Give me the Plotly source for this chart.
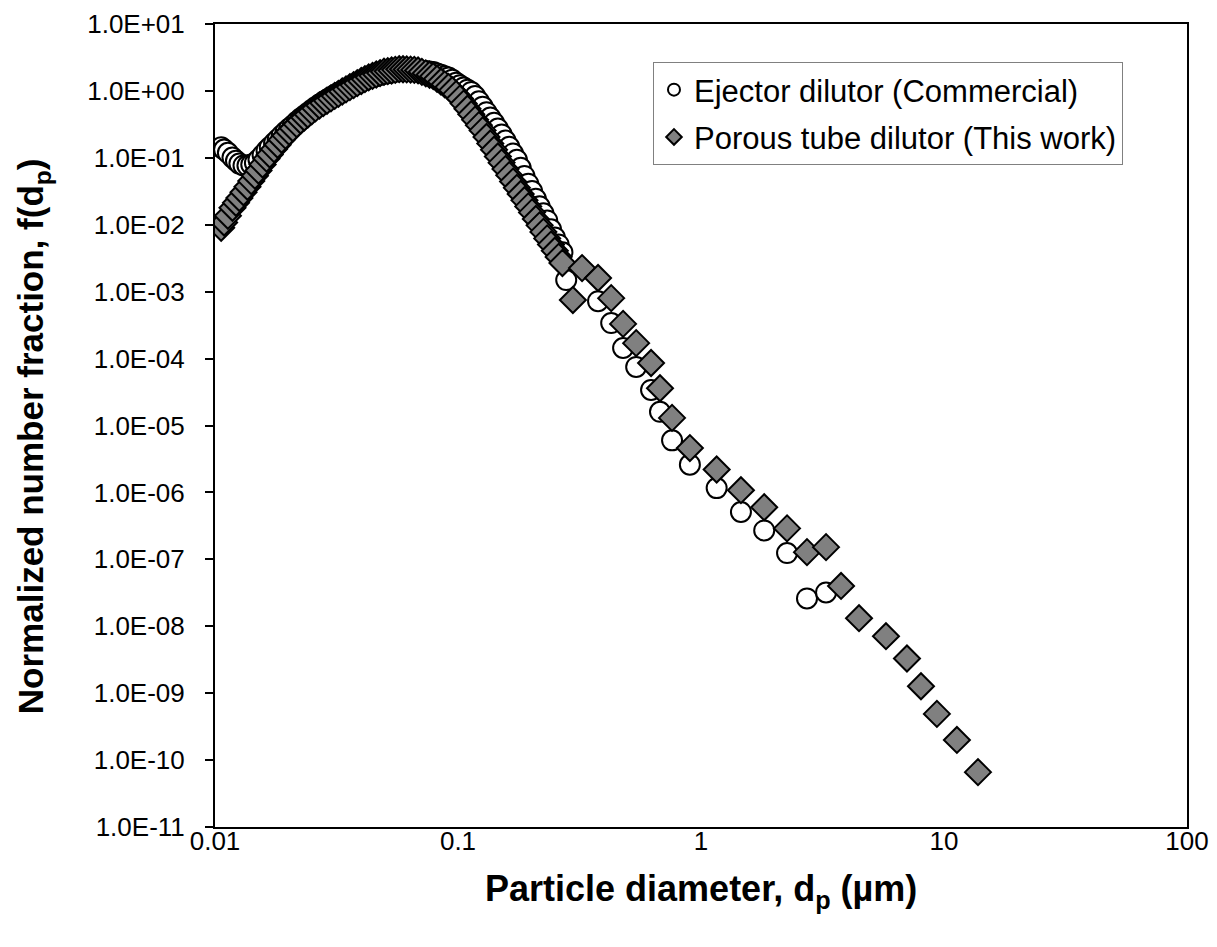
import plotly.graph_objects as go

# SMPS channel midpoints (nm)
smps_d_nm = [10.6, 10.9, 11.3, 11.8, 12.2, 12.6, 13.1, 13.6, 14.1, 14.6, 15.1, 15.7, 16.3, 16.8,
             17.5, 18.1, 18.8, 19.5, 20.2, 20.9, 21.7, 22.5, 23.3, 24.1, 25.0, 25.9, 26.9, 27.9,
             28.9, 30.0, 31.1, 32.2, 33.4, 34.6, 35.9, 37.2, 38.5, 40.0, 41.4, 42.9, 44.5, 46.1,
             47.8, 49.6, 51.4, 53.3, 55.2, 57.3, 59.4, 61.5, 63.8, 66.1, 68.5, 71.0, 73.7, 76.4,
             79.1, 82.0, 85.1, 88.2, 91.4, 94.7, 98.2, 101.8, 105.5, 109.4, 113.4, 117.6, 121.9,
             126.3, 131.0, 135.8, 140.7, 145.9, 151.2, 156.8, 162.5, 168.5, 174.7, 181.1, 187.7,
             194.6, 201.7, 209.1, 216.7, 224.7, 232.9, 241.4, 250.3, 259.5, 269.0, 278.8]

ejector_smps = [0.144, 0.133, 0.119, 0.101, 0.0902, 0.0820, 0.0769, 0.0766, 0.0794, 0.0836,
                0.0944, 0.110, 0.129, 0.144, 0.167, 0.188, 0.216, 0.245, 0.274, 0.305,
                0.345, 0.386, 0.426, 0.467, 0.518, 0.570, 0.627, 0.681, 0.738, 0.802,
                0.867, 0.927, 0.993, 1.062, 1.140, 1.211, 1.285, 1.374, 1.455, 1.535,
                1.600, 1.667, 1.734, 1.803, 1.841, 1.884, 1.928, 1.972, 1.995, 2.009,
                2.023, 2.037, 2.042, 2.009, 1.977, 1.945, 1.910, 1.824, 1.738, 1.660,
                1.589, 1.472, 1.330, 1.219, 1.127, 1.042, 0.964, 0.839, 0.698, 0.582,
                0.481, 0.400, 0.333, 0.274, 0.224, 0.181, 0.146, 0.116, 0.0933, 0.0708,
                0.0536, 0.0411, 0.0319, 0.0244, 0.0189, 0.0148, 0.0116, 0.00853, 0.00647, 0.00508,
                0.00388, 0.00149]

porous_smps = [0.0090, 0.0108, 0.0136, 0.0179, 0.0213, 0.0251, 0.0306, 0.0370, 0.0449, 0.0541,
               0.0646, 0.0794, 0.0973, 0.112, 0.135, 0.157, 0.186, 0.215, 0.245, 0.277,
               0.318, 0.361, 0.401, 0.443, 0.494, 0.548, 0.605, 0.658, 0.713, 0.774,
               0.841, 0.904, 0.980, 1.054, 1.140, 1.222, 1.306, 1.406, 1.500, 1.596,
               1.679, 1.758, 1.849, 1.932, 1.972, 2.018, 2.065, 2.113, 2.109, 2.094,
               2.080, 2.061, 2.023, 1.928, 1.832, 1.746, 1.660, 1.514, 1.374, 1.253,
               1.146, 1.023, 0.895, 0.769, 0.646, 0.541, 0.449, 0.372, 0.308, 0.257,
               0.205, 0.164, 0.132, 0.105, 0.0847, 0.0679, 0.0551, 0.0442, 0.0356, 0.0288,
               0.0233, 0.0188, 0.0153, 0.0122, 0.00979, 0.00782, 0.00625, 0.00506, 0.00409, 0.00331,
               0.00268]

# APS channels (um)
porous_aps_d = [0.297, 0.324, 0.377, 0.427, 0.478, 0.541, 0.623, 0.678, 0.760, 0.900, 1.16, 1.46,
                1.82, 2.26, 2.73, 3.27, 3.77, 4.47, 5.77, 7.04, 8.04, 9.35, 11.3, 13.8]
porous_aps = [7.5e-4, 2.25e-3, 1.6e-3, 8.0e-4, 3.3e-4, 1.7e-4, 8.6e-5, 3.6e-5, 1.3e-5, 4.6e-6,
              2.2e-6, 1.08e-6, 6.0e-7, 2.9e-7, 1.28e-7, 1.52e-7, 4.0e-8, 1.32e-8, 7.1e-9, 3.3e-9,
              1.27e-9, 4.9e-10, 2.0e-10, 6.6e-11]

ejector_aps_d = [0.377, 0.427, 0.478, 0.541, 0.623, 0.678, 0.760, 0.900, 1.16, 1.46, 1.82, 2.26,
                 2.73, 3.27]
ejector_aps = [7.2e-4, 3.4e-4, 1.44e-4, 7.5e-5, 3.4e-5, 1.6e-5, 6.0e-6, 2.6e-6, 1.16e-6, 5.1e-7,
               2.7e-7, 1.24e-7, 2.6e-8, 3.2e-8]

y_tickvals = [1e1, 1e0, 1e-1, 1e-2, 1e-3, 1e-4, 1e-5, 1e-6, 1e-7, 1e-8, 1e-9, 1e-10, 1e-11]
y_ticktext = ["1.0E+01", "1.0E+00", "1.0E-01", "1.0E-02", "1.0E-03", "1.0E-04", "1.0E-05",
              "1.0E-06", "1.0E-07", "1.0E-08", "1.0E-09", "1.0E-10", "1.0E-11"]
x_tickvals = [0.01, 0.1, 1, 10, 100]
x_ticktext = ["0.01", "0.1", "1", "10", "100"]

FONT = "Liberation Sans, Arial, sans-serif"

ej_x = [d / 1000 for d in smps_d_nm[:len(ejector_smps)]] + ejector_aps_d
ej_y = ejector_smps + ejector_aps
po_x = [d / 1000 for d in smps_d_nm[:len(porous_smps)]] + porous_aps_d
po_y = porous_smps + porous_aps

fig = go.Figure()
fig.add_trace(go.Scatter(
    x=ej_x, y=ej_y, mode="markers", name="Ejector dilutor (Commercial)",
    legendgroup="a",
    marker=dict(symbol="circle", size=20, color="white", line=dict(color="black", width=2))))
fig.add_trace(go.Scatter(
    x=po_x, y=po_y, mode="markers", name="Porous tube dilutor (This work)",
    legendgroup="b",
    marker=dict(symbol="diamond", size=20, color="#808080", line=dict(color="black", width=2))))

fig.update_layout(
    width=1209, height=939,
    margin=dict(l=207, r=30, t=16, b=120),
    paper_bgcolor="white", plot_bgcolor="white",
    font=dict(family=FONT, color="black", size=26),
    showlegend=True,
    legend=dict(x=0.4506, y=0.9527, xanchor="left", yanchor="top",
                bordercolor="#808080", borderwidth=1, bgcolor="white",
                font=dict(family=FONT, size=31, color="black"),
                itemsizing="constant", traceorder="grouped", tracegroupgap=4),
    xaxis=dict(type="log", range=[-2, 2], tickvals=x_tickvals, ticktext=x_ticktext,
               showgrid=False, zeroline=False, showline=True, linecolor="black", linewidth=2,
               mirror=True, ticks="", ticklabelstandoff=-10, automargin=False,
               tickfont=dict(family=FONT, size=26, color="black")),
    yaxis=dict(type="log", range=[-11, 1], tickvals=y_tickvals, ticktext=y_ticktext,
               showgrid=False, zeroline=False, showline=True, linecolor="black", linewidth=2,
               mirror=True, ticks="outside", ticklen=8, tickwidth=2, tickcolor="black",
               ticklabelstandoff=15, automargin=False,
               tickfont=dict(family=FONT, size=26, color="black")),
    annotations=[
        dict(text="Particle diameter, d<sub>p</sub> (µm)", xref="paper", yref="paper",
             x=0.5005, y=-0.08, xanchor="center", yanchor="middle", showarrow=False,
             font=dict(family=FONT, size=36, color="black", weight="bold")),
        dict(text="Normalized number fraction, f(d<sub>p</sub>)", xref="paper", yref="paper",
             x=-0.187, y=0.487, xanchor="center", yanchor="middle", showarrow=False,
             textangle=-90,
             font=dict(family=FONT, size=35, color="black", weight="bold")),
    ],
)

fig.write_html("out.html")
